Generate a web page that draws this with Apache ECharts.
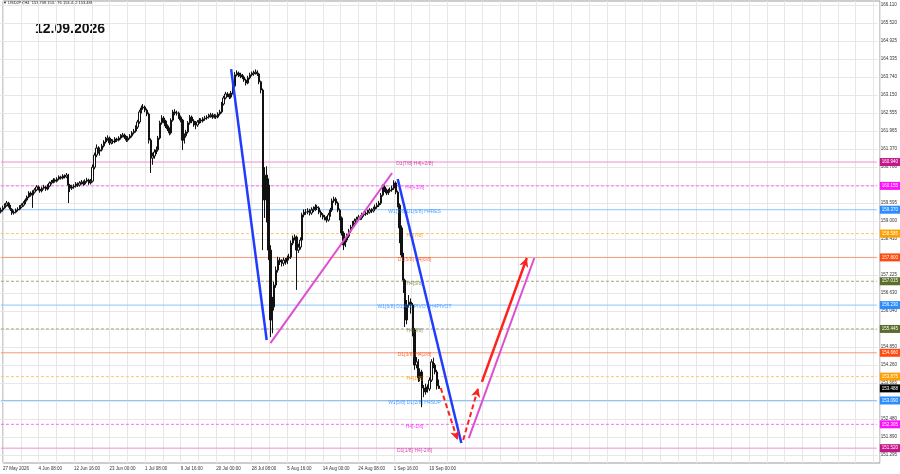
<!DOCTYPE html>
<html><head><meta charset="utf-8">
<script src="https://cdn.jsdelivr.net/npm/echarts@6/dist/echarts.min.js"></script>
<style>html,body{margin:0;padding:0;background:#fff}#c{width:900px;height:474px}</style>
</head><body><div id="c"></div>
<script>
const headerText = '\u25BC USDJPY,H4  153.708 153.776 153.472 153.488';
const dateText = '12.09.2026';
const xTickLabels = ['27 May 2026','4 Jun 08:00','12 Jun 16:00','23 Jun 00:00','1 Jul 08:00','9 Jul 16:00','20 Jul 00:00','28 Jul 08:00','5 Aug 16:00','14 Aug 00:00','24 Aug 08:00','1 Sep 16:00','10 Sep 00:00'];
const yTickLabels = ['151.295','151.890','152.480','153.075','153.665','154.260','154.850','155.450','156.040','156.630','157.225','157.815','158.410','159.000','159.595','160.185','160.780','161.370','161.965','162.555','163.150','163.740','164.335','164.925','165.520','166.110'];

// 8-hour candles (two H4 bars each)
const firstOpen = 159.30;
const closes = [
159.36,159.43,159.52,159.59,159.49,159.39,159.26,159.29,159.36,159.39,
159.46,159.52,159.59,159.69,159.79,159.92,159.85,159.95,160.02,160.12,
160.05,159.99,160.08,160.12,160.05,160.15,160.25,160.28,160.35,160.31,
160.38,160.45,160.41,160.48,160.45,160.51,160.18,160.08,160.12,160.15,
160.22,160.18,160.25,160.28,160.22,160.31,160.35,160.25,160.31,160.77,
161.17,161.40,161.30,161.34,161.47,161.60,161.70,161.73,161.57,161.63,
161.60,161.70,161.66,161.73,161.80,161.83,161.76,161.66,161.73,161.80,
161.90,161.96,162.09,162.26,162.59,162.72,162.75,162.65,162.52,161.66,
161.07,161.14,161.27,161.34,161.73,162.23,162.39,162.29,162.13,162.03,
161.90,162.32,162.59,162.55,162.55,162.42,162.32,161.66,161.80,161.93,
162.23,162.42,162.29,162.23,162.16,162.26,162.32,162.29,162.36,162.39,
162.42,162.46,162.49,162.42,162.46,162.42,162.52,162.59,162.85,163.05,
163.18,163.15,163.08,163.21,163.44,163.81,163.87,163.81,163.77,163.74,
163.64,163.54,163.71,163.81,163.84,163.87,163.90,163.84,163.58,163.31,
159.69,160.51,160.18,158.04,155.74,156.17,156.89,157.38,157.71,157.65,
157.61,157.71,157.65,157.78,157.81,158.27,158.44,158.47,158.04,158.14,
158.37,159.20,159.29,159.29,159.33,159.26,159.36,159.39,159.46,159.43,
159.29,159.20,159.13,159.10,159.03,159.20,159.36,159.66,159.72,159.59,
159.36,159.10,158.60,158.21,158.37,158.50,158.67,158.80,158.93,159.00,
159.06,159.13,159.10,159.20,159.23,159.26,159.29,159.36,159.33,159.39,
159.46,159.52,159.59,159.85,160.12,160.02,159.92,159.99,160.02,160.08,
160.25,159.95,159.52,158.77,157.88,157.05,155.74,156.23,156.33,156.23,
155.41,154.26,154.36,153.83,154.03,153.50,153.37,153.53,153.47,153.76,
154.36,154.26,154.03,153.57,153.488];
const highs = [
159.44,159.50,159.58,159.66,159.63,159.53,159.42,159.35,159.41,159.45,
159.52,159.58,159.65,159.74,159.84,159.98,159.97,160.01,160.08,160.18,
160.17,160.09,160.13,160.19,160.16,160.21,160.30,160.35,160.41,160.40,
160.44,160.50,160.49,160.54,160.53,160.58,160.55,160.22,160.19,160.21,
160.28,160.27,160.31,160.35,160.33,160.37,160.42,160.39,160.38,160.86,
161.25,161.52,161.46,161.42,161.54,161.66,161.77,161.82,161.78,161.70,
161.69,161.76,161.74,161.79,161.86,161.90,161.88,161.80,161.79,161.86,
161.96,162.03,162.15,162.33,162.66,162.80,162.85,162.80,162.70,162.57,
161.72,161.25,161.36,161.45,161.80,162.30,162.48,162.45,162.33,162.18,
162.08,162.38,162.66,162.68,162.63,162.60,162.47,162.36,161.88,162.00,
162.29,162.49,162.47,162.35,162.29,162.32,162.39,162.38,162.42,162.46,
162.48,162.53,162.56,162.55,162.52,162.51,162.58,162.66,162.92,163.12,
163.25,163.24,163.20,163.28,163.52,163.90,163.96,163.92,163.88,163.84,
163.79,163.68,163.78,163.88,163.92,163.95,163.99,163.96,163.88,163.62,
163.36,160.77,160.80,160.40,158.20,156.50,157.00,157.50,157.82,157.80,
157.74,157.80,157.78,157.86,157.92,158.36,158.52,158.56,158.52,158.25,
158.46,159.27,159.38,159.39,159.42,159.40,159.45,159.48,159.55,159.53,
159.48,159.35,159.26,159.20,159.16,159.27,159.43,159.74,159.80,159.78,
159.64,159.41,159.15,158.66,158.45,158.58,158.74,158.87,159.00,159.08,
159.14,159.20,159.19,159.27,159.31,159.34,159.37,159.42,159.42,159.47,
159.54,159.60,159.66,159.92,160.20,160.18,160.07,160.06,160.10,160.16,
160.34,160.30,160.00,159.58,158.85,157.95,157.10,156.40,156.56,156.45,
156.30,155.48,154.52,154.45,154.15,154.10,153.60,153.64,153.62,153.85,
154.45,154.50,154.32,154.10,153.78];
const lows = [
159.25,159.31,159.40,159.47,159.44,159.33,159.20,159.21,159.25,159.31,
159.35,159.42,159.47,159.55,159.64,159.75,159.80,159.43,159.90,159.98,
160.00,159.93,159.94,160.03,159.99,160.01,160.11,160.20,160.24,160.26,
160.27,160.34,160.36,160.37,160.40,160.41,159.59,159.95,160.02,160.06,
160.10,160.12,160.13,160.20,160.16,160.18,160.26,160.19,160.20,160.27,
160.70,161.10,161.22,161.15,161.29,161.42,161.55,161.64,161.50,161.52,
161.54,161.56,161.60,161.62,161.68,161.75,161.70,161.60,161.61,161.69,
161.75,161.85,161.91,162.03,162.20,162.54,162.66,162.58,162.45,161.55,
160.58,160.85,161.05,161.20,161.28,161.68,162.17,162.22,162.06,161.96,
161.82,161.85,162.27,162.48,162.47,162.36,162.25,161.34,161.55,161.74,
161.88,162.17,162.22,162.10,162.02,162.10,162.20,162.22,162.24,162.30,
162.33,162.37,162.40,162.36,162.37,162.36,162.38,162.47,162.54,162.80,
163.00,163.08,163.01,163.03,163.16,163.38,163.76,163.74,163.70,163.67,
163.58,163.46,163.50,163.66,163.76,163.78,163.82,163.77,163.50,163.20,
158.04,159.10,158.95,157.71,155.18,155.30,156.05,156.80,157.30,157.55,
157.50,157.52,157.56,157.58,157.70,157.75,158.20,158.36,156.73,157.95,
158.06,158.30,159.12,159.20,159.22,159.18,159.20,159.29,159.33,159.36,
159.22,159.12,159.05,159.02,158.95,158.98,159.14,159.30,159.60,159.52,
159.29,159.02,158.52,158.04,158.14,158.30,158.44,158.60,158.74,158.88,
158.94,159.00,159.03,159.04,159.14,159.17,159.20,159.24,159.26,159.28,
159.33,159.40,159.46,159.53,159.80,159.95,159.85,159.86,159.93,159.96,
160.02,159.88,159.45,158.27,157.80,156.63,155.51,155.60,156.15,155.95,
155.20,154.10,154.15,153.70,153.72,152.87,153.20,153.28,153.35,153.40,
153.70,154.15,153.95,153.45,153.47];

// Murrey-style levels
const levelPrices = [160.940,160.155,159.370,158.585,157.800,157.015,156.230,155.445,154.660,153.875,153.090,152.305,151.520];
const levelTexts = ['D1[7/8] H4[+2/8]','H4[+1/8]','W1[7/8] D1[6/8] H4RES','H4[7/8]','D1[5/8] H4[6/8]','H4[5/8]','W1[6/8] D1[4/8] PIVOT H4PIVOT','H4[3/8]','D1[3/8] H4[2/8]','H4[1/8]','W1[5/8] D1[2/8] H4SUP','H4[-1/8]','D1[1/8] H4[-2/8]'];
const levelKinds = ['d','h','w','ho','dr','hg','w','hg','dr','ho','w','h','d'];
const currentPrice = 153.488;

// drawn trend lines: [slot index, price]
const blueLine1 = [[123, 164.00], [142, 155.08]];
const pinkLine1 = [[144, 154.98], [209, 160.58]];
const blueLine2 = [[212, 160.38], [246, 151.69]];
const redDashed1 = [[235, 153.50], [244, 151.79]];
const redDashed2 = [[247, 151.79], [255, 153.50]];
const redArrow = [[257, 153.70], [281, 157.78]];
const pinkLine2 = [[250, 151.85], [285, 157.78]];

// ---------- layout / style ----------
const SLOTS = 469;          // 8h slots across the plot width
const H4_ACROSS = 938;      // H4 bars across the plot width
const levelTextSlot = 221;
const FONT = '"Liberation Sans", Arial, sans-serif';
const levelStyle = {
  d:  {line:'#ee8fd0', type:'solid',  box:'#c2188b', text:'#cc1a9c'},
  h:  {line:'#ff66ff', type:[3,2],    box:'#ff10ff', text:'#ff10ff'},
  w:  {line:'#8cc4ff', type:'solid',  box:'#2b8cff', text:'#2b8cff'},
  ho: {line:'#ffc470', type:[3,2],    box:'#ff9f00', text:'#f39200'},
  dr: {line:'#f7997a', type:'solid',  box:'#ff4a10', text:'#ff4a10'},
  hg: {line:'#a3a382', type:[3,2],    box:'#5a6e2c', text:'#6b7a30'}
};

const yMin = Number(yTickLabels[0]);
const yMax = Number(yTickLabels[yTickLabels.length - 1]);
const yStep = (yMax - yMin) / (yTickLabels.length - 1);

const ohlc = closes.map((c, i) => [i === 0 ? firstOpen : closes[i - 1], c, lows[i], highs[i]]);
const slots = Array.from({length: SLOTS}, (_, i) => String(i));

function boxLabel(bg, v) {
  return {show:true, distance:3, formatter: () => v.toFixed(3), color:'#fff', valueAnimation:false,
    fontSize:4.5, fontFamily:FONT, backgroundColor:bg, padding:[2,2,1,2]};
}

// one line series per level, drawn through the axes from first to last slot
const levelSeries = levelPrices.map((p, k) => {
  const s = levelStyle[levelKinds[k]];
  return {
    type:'line', xAxisIndex:0, yAxisIndex:0, silent:true, symbol:'none', z:1,
    data:[[0, p], [SLOTS - 1, p]],
    lineStyle:{color:s.line, type:s.type, width:1},
    endLabel: boxLabel(s.box, p)
  };
});
levelSeries.push({
  type:'line', xAxisIndex:0, yAxisIndex:0, silent:true, symbol:'none', z:6,
  data:[[SLOTS - 2, currentPrice], [SLOTS - 1, currentPrice]],
  lineStyle:{width:0, color:'#000'},
  endLabel: boxLabel('#000', currentPrice)
});

function trend(pts, color, width, type, arrow) {
  return {
    type:'line', xAxisIndex:0, yAxisIndex:0, silent:true, symbol:'none', data:[], z:5,
    markLine:{silent:true, animation:false, symbol:['none', arrow ? 'arrow' : 'none'], symbolSize:[7, 9],
      label:{show:false}, lineStyle:{color, width, type}, itemStyle:{color},
      data:[[{coord: pts[0]}, {coord: pts[1]}]]}
  };
}
const trendSeries = [
  trend(blueLine1, '#1f3cff', 2.5, 'solid', false),
  trend(pinkLine1, '#dd4fd0', 2, 'solid', false),
  trend(blueLine2, '#1f3cff', 2.5, 'solid', false),
  trend(pinkLine2, '#dd4fd0', 2, 'solid', false),
  trend(redDashed1, '#ff2020', 2, [5,3], true),
  trend(redDashed2, '#ff2020', 2, [5,3], true),
  trend(redArrow, '#ff2020', 2.5, 'solid', true)
];

const chart = echarts.init(document.getElementById('c'), null, {renderer:'canvas'});
chart.setOption({
  animation:false,
  backgroundColor:'#fff',
  graphic:[
    {type:'text', left:3, top:1, style:{text:headerText, font:'4px ' + FONT, fill:'#222'}},
    {type:'text', left:35, top:22, style:{text:dateText, font:'bold 14px ' + FONT, fill:'#111'}}
  ],
  grid:[
    {left:0, right:20, top:5, bottom:19},
    {left:0, right:20, top:1, bottom:11, show:true, borderColor:'#9a9a9a', borderWidth:1, backgroundColor:'transparent'}
  ],
  xAxis:[
    {gridIndex:0, type:'category', data:slots, boundaryGap:true, show:false},
    {gridIndex:1, type:'value', min:0, max:H4_ACROSS, interval:19,
     axisLine:{show:false}, axisTick:{show:false},
     splitLine:{show:true, lineStyle:{color:'#e7e7e7', width:1}},
     axisLabel:{show:true, fontSize:4.5, fontFamily:FONT, color:'#333', margin:3, align:'left',
       showMaxLabel:false,
       formatter: v => (v % 38 === 0 && xTickLabels[v / 38] !== undefined) ? xTickLabels[v / 38] : ''}}
  ],
  yAxis:[
    {gridIndex:0, type:'value', position:'right', min:yMin, max:yMax, interval:yStep,
     axisLine:{show:false}, axisTick:{show:false},
     splitLine:{show:true, lineStyle:{color:'#e7e7e7', width:1}},
     axisLabel:{show:true, fontSize:4.5, fontFamily:FONT, color:'#333', margin:3,
       showMinLabel:true, showMaxLabel:true,
       formatter: v => { const k = Math.round((v - yMin) / yStep); return yTickLabels[k] || ''; }}},
    {gridIndex:1, type:'value', min:0, max:1, show:false}
  ],
  series: levelSeries.concat([
    {type:'candlestick', xAxisIndex:0, yAxisIndex:0, data:ohlc, barWidth:1.8, z:3,
     itemStyle:{color:'#ffffff', color0:'#111111', borderColor:'#111111', borderColor0:'#111111', borderWidth:1}},
    {type:'scatter', xAxisIndex:0, yAxisIndex:0, symbolSize:0, silent:true, z:4,
     data: levelPrices.map((p, k) => ({value:[levelTextSlot, p], label:{color: levelStyle[levelKinds[k]].text}})),
     label:{show:true, position:'inside', offset:[0,2], fontSize:5, fontFamily:FONT,
       formatter: prm => levelTexts[prm.dataIndex]}
    }
  ]).concat(trendSeries)
});
</script>
</body></html>
